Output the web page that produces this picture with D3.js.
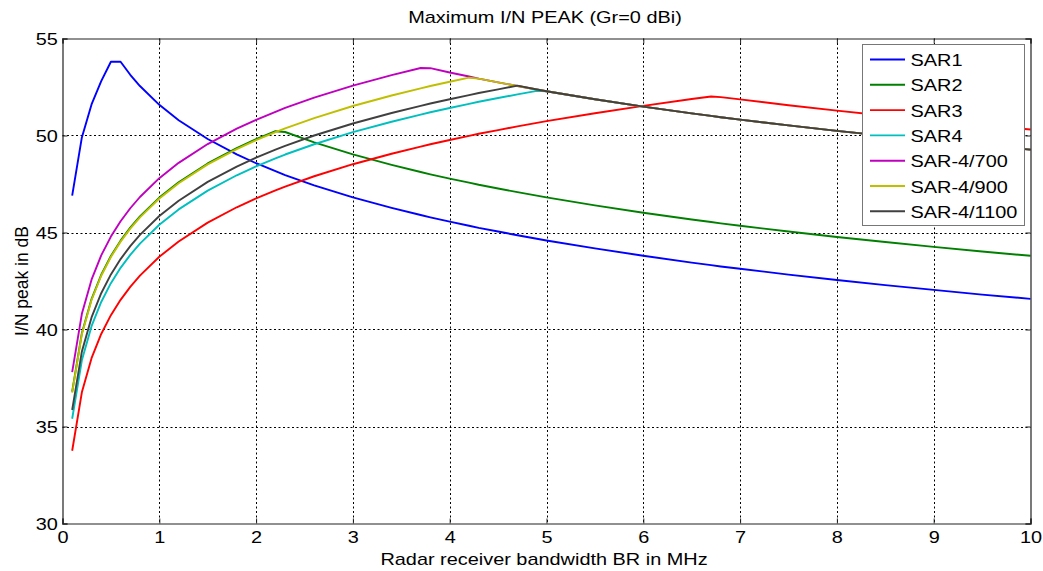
<!DOCTYPE html>
<html><head><meta charset="utf-8">
<script src="https://cdn.jsdelivr.net/npm/d3@7"></script>
<style>
html,body{margin:0;padding:0;background:#fff;}
svg{display:block;font-family:"Liberation Sans",Arial,sans-serif;}
</style></head>
<body>
<svg id="chart" width="1043" height="571"></svg>
<script>
const bandwidth = [0.1,0.2,0.3,0.4,0.5,0.6,0.7,0.8,1.0,1.2,1.5,1.8,2.0,2.2,2.3,2.6,3.0,3.4,3.7,3.8,4.0,4.2,4.3,4.5,4.7,4.9,5.0,5.5,6.0,6.5,6.7,6.8,7.0,7.5,8.0,8.5,9.0,9.5,10];
const sar1 = [46.9,49.9,51.6,52.8,53.8,53.8,53.13,52.55,51.58,50.79,49.82,49.03,48.57,48.16,47.96,47.43,46.81,46.27,45.9,45.78,45.56,45.35,45.24,45.05,44.86,44.68,44.59,44.18,43.8,43.45,43.32,43.25,43.13,42.83,42.55,42.29,42.04,41.8,41.58];
const sar2 = [36.8,39.81,41.57,42.82,43.79,44.58,45.25,45.83,46.8,47.59,48.56,49.35,49.81,50.22,50.18,49.65,49.03,48.49,48.12,48.0,47.78,47.57,47.46,47.27,47.08,46.9,46.81,46.4,46.02,45.67,45.54,45.47,45.35,45.05,44.77,44.51,44.26,44.02,43.8];
const sar3 = [33.75,36.76,38.52,39.77,40.74,41.53,42.2,42.78,43.75,44.54,45.51,46.3,46.76,47.17,47.37,47.9,48.52,49.06,49.43,49.55,49.77,49.98,50.09,50.28,50.47,50.65,50.74,51.15,51.53,51.88,52.01,51.98,51.86,51.56,51.28,51.02,50.77,50.53,50.31];
const sar4 = [35.4,38.41,40.17,41.42,42.39,43.18,43.85,44.43,45.4,46.19,47.16,47.95,48.41,48.82,49.02,49.55,50.17,50.71,51.08,51.2,51.42,51.63,51.74,51.93,52.12,52.3,52.28,51.87,51.49,51.14,51.01,50.94,50.82,50.52,50.24,49.98,49.73,49.49,49.27];
const sar4_700 = [37.8,40.81,42.57,43.82,44.79,45.58,46.25,46.83,47.8,48.59,49.56,50.35,50.81,51.22,51.42,51.95,52.57,53.11,53.48,53.47,53.25,53.04,52.93,52.74,52.55,52.37,52.28,51.87,51.49,51.14,51.01,50.94,50.82,50.52,50.24,49.98,49.73,49.49,49.27];
const sar4_900 = [36.75,39.76,41.52,42.77,43.74,44.53,45.2,45.78,46.75,47.54,48.51,49.3,49.76,50.17,50.37,50.9,51.52,52.06,52.43,52.55,52.77,52.98,52.93,52.74,52.55,52.37,52.28,51.87,51.49,51.14,51.01,50.94,50.82,50.52,50.24,49.98,49.73,49.49,49.27];
const sar4_1100 = [35.85,38.86,40.62,41.87,42.84,43.63,44.3,44.88,45.85,46.64,47.61,48.4,48.86,49.27,49.47,50.0,50.62,51.16,51.53,51.65,51.87,52.08,52.19,52.38,52.57,52.37,52.28,51.87,51.49,51.14,51.01,50.94,50.82,50.52,50.24,49.98,49.73,49.49,49.27];
const seriesNames = ["SAR1","SAR2","SAR3","SAR4","SAR-4/700","SAR-4/900","SAR-4/1100"];
const seriesValues = [sar1,sar2,sar3,sar4,sar4_700,sar4_900,sar4_1100];
const seriesColors = ["#0000ff","#008000","#ff0000","#00bfbf","#bf00bf","#bfbf00","#404040"];
const xTicks = [0,1,2,3,4,5,6,7,8,9,10];
const yTicks = [30,35,40,45,50,55];

const FS = 17, SX = 1.17;
const svg = d3.select("#chart");
const m = {left:62.5, right:1030.5, top:38.5, bottom:523.5};
const x = d3.scaleLinear().domain([0,10]).range([m.left,m.right]);
const y = d3.scaleLinear().domain([30,55]).range([m.bottom,m.top]);

function label(px, py, txt, anchor){
  return svg.append("text")
    .attr("transform",`translate(${px},${py}) scale(${SX},1)`)
    .attr("text-anchor",anchor||"start")
    .style("font-size",FS+"px").attr("fill","#000").text(txt);
}

// grid
const g = svg.append("g");
g.selectAll("line.vg").data(xTicks.slice(1,-1)).enter().append("line")
  .attr("x1",d=>Math.round(x(d))+0.5).attr("x2",d=>Math.round(x(d))+0.5)
  .attr("y1",m.top).attr("y2",m.bottom)
  .attr("stroke","#000").attr("stroke-width",1).attr("stroke-dasharray","2,2.5");
g.selectAll("line.hg").data(yTicks.slice(1,-1)).enter().append("line")
  .attr("y1",d=>Math.round(y(d))+0.5).attr("y2",d=>Math.round(y(d))+0.5)
  .attr("x1",m.left).attr("x2",m.right)
  .attr("stroke","#000").attr("stroke-width",1).attr("stroke-dasharray","2,2.5");

// lines
const line = d3.line().x((d,i)=>x(bandwidth[i])).y(d=>y(d));
svg.append("g").selectAll("path").data(seriesValues).enter().append("path")
  .attr("d",line).attr("fill","none")
  .attr("stroke",(d,i)=>seriesColors[i]).attr("stroke-width",1.9)
  .attr("stroke-linejoin","round");

// axes
const xAxis = d3.axisBottom(x).tickValues(xTicks).tickSize(-5).tickPadding(7.5).tickFormat(d3.format("d"));
const yAxis = d3.axisLeft(y).tickValues(yTicks).tickSize(-5).tickPadding(4).tickFormat(d3.format("d"));
const xa = svg.append("g").attr("transform",`translate(0,${m.bottom})`).call(xAxis);
const ya = svg.append("g").attr("transform",`translate(${m.left},0)`).call(yAxis);
const xt = svg.append("g").attr("transform",`translate(0,${m.top})`).call(d3.axisTop(x).tickValues(xTicks).tickSize(-5).tickFormat(""));
const yr = svg.append("g").attr("transform",`translate(${m.right},0)`).call(d3.axisRight(y).tickValues(yTicks).tickSize(-5).tickFormat(""));
[xa,ya,xt,yr].forEach(a=>{
  a.select(".domain").attr("stroke","#222").attr("stroke-width",1.2);
  a.selectAll(".tick line").attr("stroke","#222");
  a.selectAll(".tick text").attr("fill","#000").style("font-size",FS+"px")
    .style("font-family","'Liberation Sans',Arial,sans-serif")
    .attr("transform",`scale(${SX},1)`);
});
ya.selectAll(".tick text").attr("dy","0.36em");

// legend
const lg = svg.append("g");
lg.append("rect").attr("x",862.5).attr("y",44.5).attr("width",162).attr("height",181)
  .attr("fill","#fff").attr("stroke","#777").attr("stroke-width",1);
seriesNames.forEach((n,i)=>{
  const yy = 59.5 + i*25.3;
  lg.append("line").attr("x1",870).attr("x2",905).attr("y1",yy).attr("y2",yy)
    .attr("stroke",seriesColors[i]).attr("stroke-width",1.9);
  label(910.5, yy+6.5, n);
});

// titles
label(545, 23, "Maximum I/N PEAK (Gr=0 dBi)", "middle");
label(544, 565, "Radar receiver bandwidth BR in MHz", "middle");
svg.append("text").attr("transform",`translate(28,${(m.top+m.bottom)/2}) rotate(-90)`)
  .attr("text-anchor","middle").style("font-size","17.5px").attr("fill","#000").text("I/N peak in dB");
</script>
</body></html>
